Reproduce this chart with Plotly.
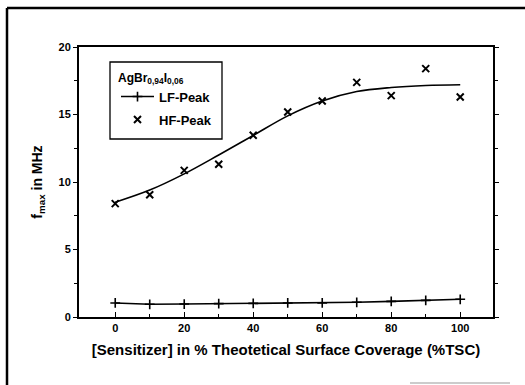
import plotly.graph_objects as go

x_vals = [0, 10, 20, 30, 40, 50, 60, 70, 80, 90, 100]
lf_peak = [1.04, 0.94, 0.96, 0.99, 1.01, 1.04, 1.04, 1.09, 1.16, 1.23, 1.31]
hf_peak = [8.4, 9.06, 10.86, 11.31, 13.46, 15.19, 16.0, 17.38, 16.4, 18.4, 16.3]
hf_fit = [8.5, 9.4, 10.6, 12.0, 13.45, 14.9, 16.0, 16.7, 17.0, 17.15, 17.2]

font_fam = "Liberation Sans, Arial, sans-serif"

# plot area in pixels (for paper-coordinate conversions of decorations)
L, R, T, B = 79, 493, 47, 317
def px(x):
    return (x - L) / (R - L)
def py(y):
    return (B - y) / (B - T)

fig = go.Figure()
fig.add_trace(go.Scatter(
    x=x_vals, y=hf_fit, mode="lines", line=dict(color="black", width=1.6, shape="spline"),
    showlegend=False, hoverinfo="skip"))
fig.add_trace(go.Scatter(
    x=x_vals, y=lf_peak, mode="lines+markers", name="LF-Peak", legendgroup="lf",
    line=dict(color="black", width=1.6),
    marker=dict(symbol="cross-thin", size=7, line=dict(color="black", width=1.6))))
fig.add_trace(go.Scatter(
    x=x_vals, y=hf_peak, mode="markers", name="HF-Peak", legendgroup="hf",
    marker=dict(symbol="x-thin", size=7, line=dict(color="black", width=2))))

fig.update_layout(
    width=525, height=385,
    margin=dict(l=L, r=525 - R, t=T, b=385 - B),
    paper_bgcolor="white", plot_bgcolor="white",
    font=dict(family=font_fam, color="black"),
    legend=dict(
        x=px(116), y=py(66), xanchor="left", yanchor="top",
        borderwidth=0, bgcolor="rgba(0,0,0,0)",
        title=dict(text="<b>AgBr<sub>0,94</sub>I<sub>0,06</sub></b>", font=dict(size=12)),
        font=dict(size=13, family=font_fam, weight="bold"),
        itemwidth=33, tracegroupgap=3,
    ),
    xaxis=dict(
        range=[-10.5, 109.5], tickvals=[0, 20, 40, 60, 80, 100],
        ticks="inside", ticklen=5, tickwidth=1.2, tickcolor="black",
        minor=dict(tickvals=[10, 30, 50, 70, 90], ticks="inside", ticklen=3, tickcolor="black"),
        showline=True, linecolor="black", linewidth=2, mirror=True,
        showgrid=False, zeroline=False,
        tickfont=dict(size=11, family=font_fam, weight="bold"),
        title=dict(text="[Sensitizer] in % Theotetical Surface Coverage (%TSC)",
                   font=dict(size=15, family=font_fam, weight="bold"), standoff=11),
    ),
    yaxis=dict(
        range=[0, 20], tickvals=[0, 5, 10, 15, 20],
        ticks="outside", ticklen=4, tickwidth=1.2, tickcolor="black",
        minor=dict(tickvals=[2.5, 7.5, 12.5, 17.5], ticks="outside", ticklen=3, tickcolor="black"),
        showline=True, linecolor="black", linewidth=2, mirror="ticks",
        showgrid=False, zeroline=False,
        tickfont=dict(size=11, family=font_fam, weight="bold"),
        title=dict(text="f<sub>max</sub> in MHz",
                   font=dict(size=14, family=font_fam, weight="bold"), standoff=13),
    ),
    shapes=[
        # legend box
        dict(type="rect", xref="paper", yref="paper", x0=px(110), x1=px(222),
             y0=py(139), y1=py(62), line=dict(color="black", width=1.3),
             fillcolor="rgba(0,0,0,0)", layer="above"),
        # outer frame (partial, as in scanned figure)
        dict(type="line", xref="paper", yref="paper", x0=px(7), x1=px(7),
             y0=py(385), y1=py(8), line=dict(color="black", width=2.5)),
        dict(type="line", xref="paper", yref="paper", x0=px(7), x1=px(525),
             y0=py(8), y1=py(8), line=dict(color="black", width=2.5)),
        dict(type="line", xref="paper", yref="paper", x0=px(410), x1=px(510),
             y0=py(383), y1=py(383), line=dict(color="#999999", width=1)),
    ],
)

fig.write_html("out.html")
